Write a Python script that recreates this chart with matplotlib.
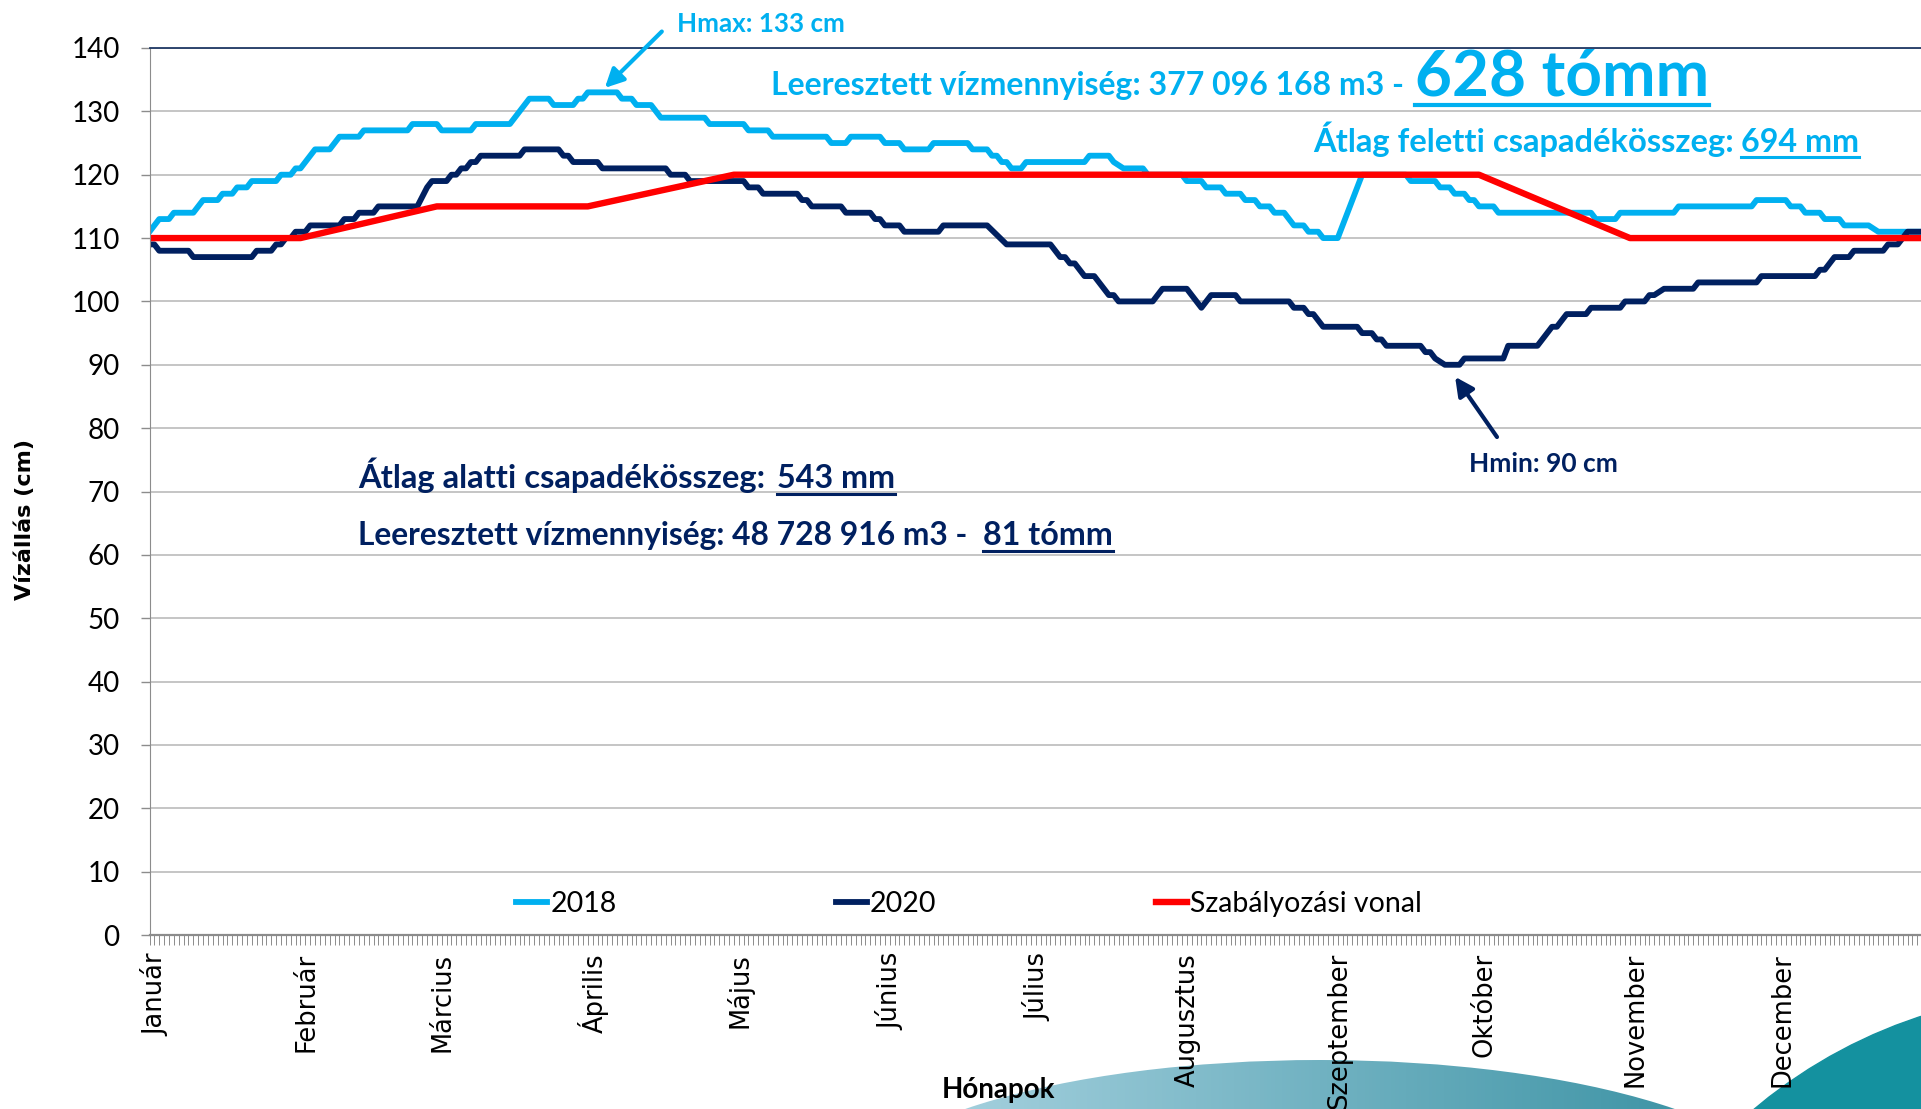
import numpy as np
import matplotlib.pyplot as plt
from matplotlib.patches import Ellipse, Circle
from matplotlib.lines import Line2D
from matplotlib.transforms import Affine2D, ScaledTranslation
from matplotlib.colors import LinearSegmentedColormap

W, H = 1921, 1109

months = ['Január', 'Február', 'Március', 'Április', 'Május', 'Június',
          'Július', 'Augusztus', 'Szeptember', 'Október', 'November', 'December']
month_start = [0, 31, 59, 90, 120, 151, 181, 212, 243, 273, 304, 334]

# 2018 water level, vertices of the daily polyline (day of year, cm)
days_2018 = [0, 2, 4, 5, 9, 11, 14, 15, 17, 18, 20, 21, 26, 27, 29, 30, 31, 34, 37, 39,
             43, 44, 53, 54, 59, 60, 66, 67, 74, 78, 82, 83, 87, 88, 89, 90, 96, 97, 99, 100,
             103, 105, 114, 115, 122, 123, 127, 128, 139, 140, 143, 144, 150, 151, 154, 155,
             160, 161, 168, 169, 172, 173, 174, 175, 176, 177, 179, 180, 192, 193, 197, 198,
             200, 204, 205, 212, 213, 216, 217, 220, 221, 224, 225, 227, 228, 230, 231, 233,
             235, 237, 238, 240, 241, 244, 249, 258, 259, 264, 265, 267, 268, 270, 271, 272,
             273, 276, 277, 296, 297, 301, 302, 313, 314, 329, 330, 336, 337, 339, 340, 343,
             344, 347, 348, 353, 355, 364]
level_2018 = [111, 113, 113, 114, 114, 116, 116, 117, 117, 118, 118, 119, 119, 120, 120, 121, 121, 124, 124, 126,
              126, 127, 127, 128, 128, 127, 127, 128, 128, 132, 132, 131, 131, 132, 132, 133, 133, 132, 132, 131,
              131, 129, 129, 128, 128, 127, 127, 126, 126, 125, 125, 126, 126, 125, 125, 124,
              124, 125, 125, 124, 124, 123, 123, 122, 122, 121, 121, 122, 122, 123, 123, 122,
              121, 121, 120, 120, 119, 119, 118, 118, 117, 117, 116, 116, 115, 115, 114, 114,
              112, 112, 111, 111, 110, 110, 120, 120, 119, 119, 118, 118, 117, 117, 116, 116,
              115, 115, 114, 114, 113, 113, 114, 114, 115, 115, 116, 116, 115, 115, 114, 114,
              113, 113, 112, 112, 111, 111]

# 2020 water level
days_2020 = [0, 1, 2, 8, 9, 21, 22, 25, 26, 27, 28, 29, 30, 32, 33, 39, 40, 42, 43, 46,
             47, 55, 57, 58, 61, 62, 63, 64, 65, 66, 67, 68, 76, 77, 84, 85, 86, 87, 92, 93,
             106, 107, 110, 111, 122, 123, 125, 126, 133, 134, 135, 136, 142, 143, 148, 149,
             150, 151, 154, 155, 162, 163, 172, 176, 185, 187, 188, 189, 190, 192, 194, 195,
             197, 198, 199, 206, 208, 213, 216, 218, 223, 224, 234, 235, 237, 238, 239, 241,
             248, 249, 251, 252, 253, 254, 261, 262, 263, 264, 266, 269, 270, 278, 279, 285,
             286, 288, 289, 291, 295, 296, 302, 303, 307, 308, 309, 311, 317, 318, 330, 331,
             342, 343, 344, 346, 349, 350, 356, 357, 359, 361, 364]
level_2020 = [109, 109, 108, 108, 107, 107, 108, 108, 109, 109, 110, 110, 111, 111, 112, 112, 113, 113, 114, 114,
              115, 115, 118, 119, 119, 120, 120, 121, 121, 122, 122, 123, 123, 124, 124, 123, 123, 122, 122, 121,
              121, 120, 120, 119, 119, 118, 118, 117, 117, 116, 116, 115, 115, 114, 114, 113,
              113, 112, 112, 111, 111, 112, 112, 109, 109, 107, 107, 106, 106, 104, 104, 103,
              101, 101, 100, 100, 102, 102, 99, 101, 101, 100, 100, 99, 99, 98, 98, 96,
              96, 95, 95, 94, 94, 93, 93, 92, 92, 91, 90, 90, 91, 91, 93, 93,
              94, 96, 96, 98, 98, 99, 99, 100, 100, 101, 101, 102, 102, 103, 103, 104,
              104, 105, 105, 107, 107, 108, 108, 109, 109, 111, 111]

# regulation line
rule_days = [0, 31, 59, 90, 120, 273, 304, 365]
rule_level = [110, 110, 115, 115, 120, 120, 110, 110]

LIGHT = '#00B0F0'
NAVY = '#002060'
RED = '#FF0000'
SANS = ['Lato', 'DejaVu Sans']

fig = plt.figure(figsize=(W / 100, H / 100), dpi=100)
pix = Affine2D().scale(1 / W, -1 / H).translate(0, 1) + fig.transFigure

# slide background swoosh
bg = fig.add_axes([0, 0, 1, 1], zorder=-1)
wave = Ellipse((1320, 1210), 960, 300, facecolor='none', edgecolor='none')
bg.add_patch(wave)
cmap = LinearSegmentedColormap.from_list('wave', ['#b3d9e6', '#2f8b9d'])
img = bg.imshow(np.linspace(0, 1, 256)[None, :], extent=(840, 1800, H, 1040),
                cmap=cmap, aspect='auto')
img.set_clip_path(wave)
bg.add_patch(Circle((2075, 1490), 498, color='#14919f'))
bg.set_xlim(0, W)
bg.set_ylim(H, 0)
bg.axis('off')

ax = fig.add_axes([149.5 / W, 1 - 935 / H, (1927 - 149.5) / W, (935 - 48) / H])
ax.plot(days_2018, level_2018, color=LIGHT, lw=4.2, label='2018', solid_joinstyle='round')
ax.plot(days_2020, level_2020, color=NAVY, lw=4.2, label='2020', solid_joinstyle='round')
ax.plot(rule_days, rule_level, color=RED, lw=4.6, label='Szabályozási vonal')

ax.set_xlim(0, 365)
ax.set_ylim(0, 140)
ax.set_yticks(range(0, 141, 10))
ax.set_xticks(month_start)
ax.set_xticklabels([])
ax.set_xticks(np.arange(0, 366), minor=True)
ax.tick_params(axis='x', which='both', length=7, width=0.7, color='#8c8c8c')
ax.tick_params(axis='y', length=6.5, width=1, color='#8c8c8c', pad=15, labelsize=20)
for lab in ax.get_yticklabels():
    lab.set_family(SANS)

# month names, sitting slightly right of the month start like the original
month_tf = ax.get_xaxis_transform() + ScaledTranslation(6 / 100, -18 / 100, fig.dpi_scale_trans)
for d, name in zip(month_start, months):
    ax.text(d, 0, name, transform=month_tf, rotation=90, ha='center', va='top',
            fontsize=18.5, family='DejaVu Sans', clip_on=False)

ax.yaxis.grid(True, color='#c0c0c0', lw=1.3)
ax.set_axisbelow(True)
ax.spines['right'].set_visible(False)
ax.spines['top'].set_color('#1f3864')
ax.spines['top'].set_linewidth(1.3)
ax.spines['left'].set_color('#8c8c8c')
ax.spines['bottom'].set_color('#8c8c8c')
ax.spines['bottom'].set_linewidth(1.6)

ax.legend(loc='center', bbox_to_anchor=(0.461, 0.035), ncol=3, frameon=False,
          prop={'family': SANS, 'size': 20.5}, handlelength=1.1, handletextpad=0.1,
          columnspacing=7.7)

fig.text(25, 520, 'Vízállás (cm)', transform=pix, rotation=90, ha='center', va='center',
         fontsize=16, fontweight='bold', family='DejaVu Sans')
fig.text(998, 1090, 'Hónapok', transform=pix, ha='center', va='center',
         fontsize=20, fontweight='bold', family=SANS)

renderer = fig.canvas.get_renderer()


def piece(x, y, s, color, size, ul=None, ulw=2.2):
    t = fig.text(x, y, s, transform=pix, color=color, fontsize=size, fontweight='bold',
                 family=SANS, ha='left', va='baseline')
    if ul is not None:
        bb = t.get_window_extent(renderer)
        fig.add_artist(Line2D([bb.x0, bb.x1], [ul, ul], transform=pix, color=color, lw=ulw))


piece(771, 95, 'Leeresztett vízmennyiség: 377 096 168 m3 -', LIGHT, 23.0)
piece(1415, 95, '628 tómm', LIGHT, 46, ul=105, ulw=3)
piece(1313, 151.7, 'Átlag feletti csapadékösszeg:', LIGHT, 23.6)
piece(1741, 151.7, '694 mm', LIGHT, 23.2, ul=157)
piece(358, 488, 'Átlag alatti csapadékösszeg:', NAVY, 23.6)
piece(777, 488, '543 mm', NAVY, 23.2, ul=493.5)
piece(358, 545, 'Leeresztett vízmennyiség: 48 728 916 m3 -', NAVY, 22.9)
piece(983, 545, '81 tómm', NAVY, 23.2, ul=550.5)
piece(677, 31.7, 'Hmax: 133 cm', LIGHT, 18.7)
piece(1469, 471.7, 'Hmin: 90 cm', NAVY, 19)

ax.annotate('', xy=(93.5, 133.7), xytext=(105.2, 142.6), annotation_clip=False,
            arrowprops=dict(arrowstyle='-|>', color=LIGHT, lw=3, mutation_scale=28,
                            shrinkA=0, shrinkB=0))
ax.annotate('', xy=(268.1, 88.1), xytext=(276.7, 78.6), annotation_clip=False,
            arrowprops=dict(arrowstyle='-|>', color=NAVY, lw=3, mutation_scale=28,
                            shrinkA=0, shrinkB=0))

fig.savefig('out.png', dpi=100)
plt.close(fig)
